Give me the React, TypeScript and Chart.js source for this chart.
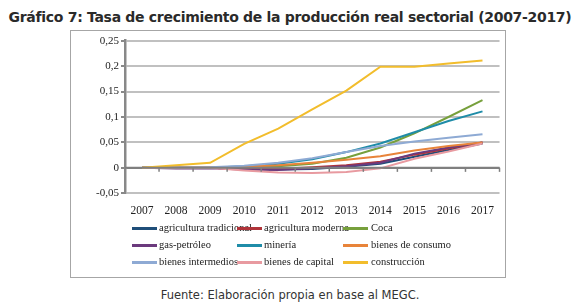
import React, { useEffect, useRef } from "react";
import { Chart, registerables } from "chart.js";

Chart.register(...registerables);

const years = ["2007", "2008", "2009", "2010", "2011", "2012", "2013", "2014", "2015", "2016", "2017"];

const agriculturaTradicional = [0, 0, 0, -0.002, -0.003, -0.002, 0.002, 0.008, 0.022, 0.035, 0.048];
const agriculturaModerna = [0, 0, 0, -0.002, -0.002, 0.001, 0.005, 0.012, 0.026, 0.038, 0.05];
const coca = [0, 0, 0, 0.001, 0.003, 0.008, 0.02, 0.04, 0.068, 0.1, 0.133];
const gasPetroleo = [0, -0.001, -0.001, -0.003, -0.004, -0.001, 0.003, 0.01, 0.028, 0.04, 0.05];
const mineria = [0, 0, 0, 0.003, 0.008, 0.017, 0.031, 0.048, 0.07, 0.092, 0.111];
const bienesConsumo = [0, 0, 0, 0.002, 0.005, 0.01, 0.016, 0.023, 0.034, 0.043, 0.05];
const bienesIntermedios = [0, 0, 0.001, 0.004, 0.01, 0.019, 0.031, 0.043, 0.052, 0.059, 0.066];
const bienesCapital = [0, 0, 0, -0.005, -0.009, -0.01, -0.008, -0.001, 0.018, 0.032, 0.048];
const construccion = [0, 0.005, 0.01, 0.047, 0.077, 0.115, 0.152, 0.199, 0.199, 0.205, 0.211];

const seriesNames = [
  "agricultura tradicional",
  "agricultura moderna",
  "Coca",
  "gas-petróleo",
  "minería",
  "bienes de consumo",
  "bienes intermedios",
  "bienes de capital",
  "construcción",
];
const seriesValues = [
  agriculturaTradicional,
  agriculturaModerna,
  coca,
  gasPetroleo,
  mineria,
  bienesConsumo,
  bienesIntermedios,
  bienesCapital,
  construccion,
];
const seriesColors = [
  "#1f4e79",
  "#b0343a",
  "#77a03c",
  "#6b3a7d",
  "#1f8ca8",
  "#e8843a",
  "#8eaad4",
  "#e89aa0",
  "#f2bd2c",
];

const yMin = -0.05;
const yMax = 0.25;
const yStep = 0.05;

const title = "Gráfico 7: Tasa de crecimiento de la producción real sectorial (2007-2017)";
const source = "Fuente: Elaboración propia en base al MEGC.";

const zeroTicksPlugin = {
  id: "zeroTicks",
  afterDatasetsDraw(chart: any) {
    const x = chart.scales.x;
    const y = chart.scales.y;
    const ctx = chart.ctx;
    const y0 = y.getPixelForValue(0);
    ctx.save();
    ctx.strokeStyle = "#7f7f7f";
    ctx.lineWidth = 2;
    ctx.beginPath();
    ctx.moveTo(chart.chartArea.left, y0);
    ctx.lineTo(chart.chartArea.right, y0);
    ctx.stroke();
    ctx.lineWidth = 1.5;
    const n = x.ticks.length;
    for (let i = 0; i < n; i++) {
      const p = x.getPixelForValue(i) + (x.getPixelForValue(1) - x.getPixelForValue(0)) / 2;
      ctx.beginPath();
      ctx.moveTo(p, y0);
      ctx.lineTo(p, y0 + 4);
      ctx.stroke();
    }
    ctx.restore();
  },
};

export default function App() {
  const canvasRef = useRef<HTMLCanvasElement | null>(null);

  useEffect(() => {
    document.body.style.margin = "0";
    const canvas = canvasRef.current;
    if (!canvas) return;
    const n = seriesNames.length;
    const chart = new Chart(canvas, {
      type: "line",
      data: {
        labels: years,
        datasets: seriesNames.map((name, i) => ({
          label: name,
          data: seriesValues[i],
          borderColor: seriesColors[i],
          backgroundColor: seriesColors[i],
          borderWidth: 2,
          pointRadius: 0,
          tension: 0,
          order: n - i,
        })),
      },
      options: {
        animation: false,
        responsive: false,
        maintainAspectRatio: false,
        layout: { padding: { top: 9.7, right: 0, left: 0, bottom: 0 } },
        plugins: {
          legend: { display: false },
          tooltip: { enabled: false },
          title: { display: false },
        },
        scales: {
          x: {
            type: "category",
            offset: true,
            grid: { display: false, drawTicks: false },
            border: { display: false },
            ticks: {
              color: "#222",
              font: { family: "Liberation Serif", size: 11.5 },
              padding: 11,
              maxRotation: 0,
              autoSkip: false,
            },
            afterFit: (s: any) => {
              s.height = 29.7;
            },
          },
          y: {
            min: yMin,
            max: yMax,
            grid: {
              color: (c: any) => (c.tick && Math.abs(c.tick.value) < 1e-9 ? "#7f7f7f" : "#c0c0c0"),
              lineWidth: 2,
              drawTicks: true,
              tickLength: 4,
              tickColor: "#888",
            },
            border: { display: true, color: "#888", width: 2.5 },
            ticks: {
              stepSize: yStep,
              color: "#222",
              font: { family: "Liberation Serif", size: 11 },
              padding: 2,
              callback: (v: any) => String(Math.round(Number(v) * 100) / 100).replace(".", ","),
            },
            afterFit: (s: any) => {
              s.width = 54;
            },
          },
        },
      },
      plugins: [zeroTicksPlugin],
    });
    return () => chart.destroy();
  }, []);

  const colLine = [132, 237, 343];
  const colText = [159, 264, 371];
  const rowY = [228, 245, 262];

  return (
    <div style={{ position: "relative", width: 580, height: 304, background: "#fff", overflow: "hidden" }}>
      <div
        style={{
          position: "absolute",
          left: 0,
          top: 9,
          width: 580,
          textAlign: "center",
          fontFamily: "'DejaVu Sans', sans-serif",
          fontWeight: "bold",
          fontSize: 14,
          color: "#2a2a2a",
          whiteSpace: "nowrap",
          letterSpacing: -0.3,
        }}
      >
        {title}
      </div>
      <div
        style={{
          position: "absolute",
          left: 70,
          top: 30,
          width: 434,
          height: 246,
          border: "1px solid #a6a6a6",
        }}
      />
      <canvas
        ref={canvasRef}
        width={434}
        height={192}
        style={{ position: "absolute", left: 71, top: 31, width: 434, height: 192 }}
      />
      {seriesNames.map((name, i) => {
        const r = Math.floor(i / 3);
        const c = i % 3;
        return (
          <React.Fragment key={name}>
            <div
              style={{
                position: "absolute",
                left: colLine[c],
                top: rowY[r] - 1.5,
                width: 25,
                height: 3,
                background: seriesColors[i],
              }}
            />
            <div
              style={{
                position: "absolute",
                left: colText[c],
                top: rowY[r] - 7,
                height: 14,
                lineHeight: "14px",
                fontFamily: "'Liberation Serif', serif",
                fontSize: 10.5,
                color: "#222",
                whiteSpace: "nowrap",
              }}
            >
              {name}
            </div>
          </React.Fragment>
        );
      })}
      <div
        style={{
          position: "absolute",
          left: 0,
          top: 288,
          width: 580,
          textAlign: "center",
          fontFamily: "'DejaVu Sans', sans-serif",
          fontSize: 11.5,
          color: "#333",
          whiteSpace: "nowrap",
        }}
      >
        {source}
      </div>
    </div>
  );
}
